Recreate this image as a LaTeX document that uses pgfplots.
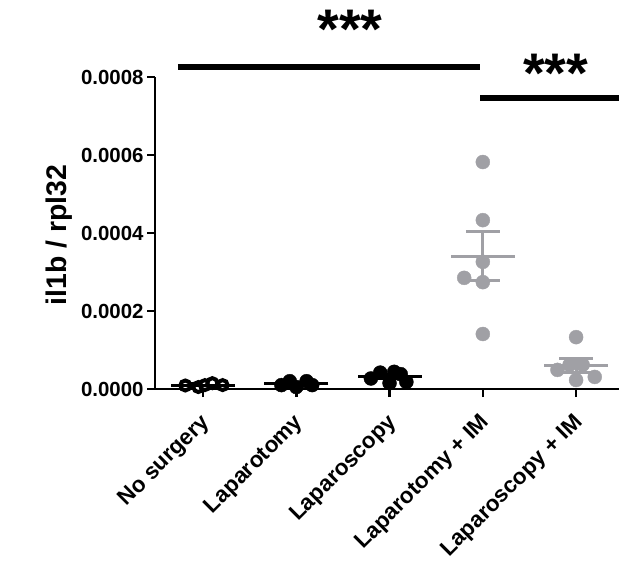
\documentclass[border=0pt]{standalone}
\usepackage{pgfplots}
\pgfplotsset{compat=1.18}
\usepackage{fontspec}
\setmainfont{Liberation Sans}
\definecolor{ptgray}{RGB}{160,160,165}

\begin{document}
\begin{tikzpicture}
\useasboundingbox (0,0) rectangle (619bp,571bp);
\begin{axis}[
    at={(155bp,182bp)}, anchor=south west,
    scale only axis,
    width=464bp, height=312bp,
    xmin=-0.515, xmax=4.46,
    ymin=0, ymax=0.0008,
    clip=false,
    axis x line*=bottom,
    axis y line*=left,
    axis line style={line width=2.5bp, black},
    tick align=outside,
    major tick length=8bp,
    tick style={line width=2.5bp, black},
    xtick={0,1,2,3,4},
    xticklabels={No surgery, Laparotomy, Laparoscopy, Laparotomy + IM, Laparoscopy + IM},
    xticklabel style={xshift=6bp, yshift=-20bp, rotate=45, anchor=east,
        font=\fontsize{22.5}{26}\selectfont\bfseries},
    ytick={0,0.0002,0.0004,0.0006,0.0008},
    scaled y ticks=false,
    yticklabel style={font=\fontsize{20.5}{24}\selectfont\bfseries,
        /pgf/number format/assume math mode=true,
        /pgf/number format/fixed, /pgf/number format/fixed zerofill,
        /pgf/number format/precision=4},
    ylabel={il1b / rpl32},
    ylabel style={at={(axis description cs:-0.207,0.494)}, anchor=center,
        font=\fontsize{28.5}{32}\selectfont\bfseries},
]

% --- puntos individuales ---
\addplot[only marks, mark=*, mark size=5bp,
    mark options={draw=black, fill=white, line width=4bp}] coordinates {
    (-0.19, 0.000009) (-0.05, 0.000005) (0.02, 0.000010) (0.10, 0.000015) (0.21, 0.000010)
};
\addplot[only marks, mark=*, mark size=7bp, black] coordinates {
    (0.84, 0.000010) (0.93, 0.000020) (1.00, 0.000005) (1.11, 0.000020) (1.17, 0.000010)
};
\addplot[only marks, mark=*, mark size=7bp, black] coordinates {
    (1.80, 0.000027) (1.90, 0.000042) (2.00, 0.000015) (2.05, 0.000044) (2.12, 0.000038) (2.18, 0.000018)
};
\addplot[only marks, mark=*, mark size=7bp, ptgray] coordinates {
    (3.00, 0.000582) (3.00, 0.000433) (3.00, 0.000326) (2.80, 0.000285) (3.00, 0.000274) (3.00, 0.000141)
};
\addplot[only marks, mark=*, mark size=7bp, ptgray] coordinates {
    (3.80, 0.000049) (4.00, 0.000023) (4.20, 0.000031) (3.93, 0.000062) (4.07, 0.000062) (4.00, 0.000133)
};

% --- media y error estándar ---
\addplot[only marks, black, mark=-, mark size=32bp, mark options={line width=3bp},
    error bars/.cd, y dir=both, y explicit, error mark=|,
    error bar style={line width=3bp}, error mark options={line width=3bp, mark size=17bp}]
    coordinates {
    (0, 0.000010) +- (0, 0.000003)
    (1, 0.000013) +- (0, 0.000003)
    (2, 0.000031) +- (0, 0.000005)
};
\addplot[only marks, ptgray, mark=-, mark size=32bp, mark options={line width=3bp},
    error bars/.cd, y dir=both, y explicit, error mark=|,
    error bar style={line width=3bp}, error mark options={line width=3bp, mark size=17bp}]
    coordinates {
    (3, 0.000340) +- (0, 0.000063)
    (4, 0.000060) +- (0, 0.000017)
};

% --- barras de significancia ---
\addplot[black, line width=6bp] coordinates {(-0.27, 0.000826) (2.97, 0.000826)};
\addplot[black, line width=6bp] coordinates {(2.97, 0.000746) (4.46, 0.000746)};
\node[font=\fontsize{56}{56}\selectfont\bfseries, anchor=base] at (axis cs:1.575, 0.000873) {***};
\node[font=\fontsize{56}{56}\selectfont\bfseries, anchor=base] at (axis cs:3.78, 0.000759) {***};

\end{axis}
\end{tikzpicture}
\end{document}
